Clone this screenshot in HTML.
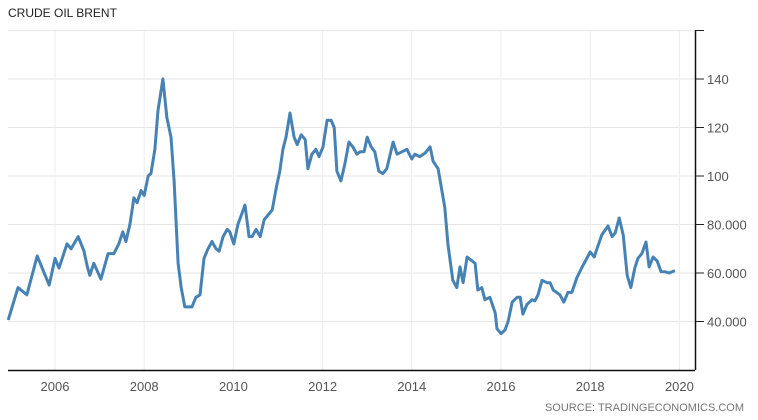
<!DOCTYPE html>
<html><head><meta charset="utf-8"><style>
body{margin:0;background:#fff;}
svg{display:block;font-family:"Liberation Sans",sans-serif;}
</style></head><body>
<svg width="758" height="420" viewBox="0 0 758 420">
<text x="8" y="17" font-size="12" fill="#222">CRUDE OIL BRENT</text>
<g id="grid"></g>
<g id="axes"></g>
<path id="line" fill="none" stroke="#4682b4" stroke-width="3" stroke-linejoin="round"/>
<text x="744" y="411" font-size="11" fill="#777" text-anchor="end">SOURCE: TRADINGECONOMICS.COM</text>
</svg>
<script>
const years=[2004.95,2005.17,2005.37,2005.60,2005.87,2006.00,2006.09,2006.27,2006.36,2006.52,2006.65,2006.72,2006.78,2006.87,2007.03,2007.19,2007.32,2007.43,2007.52,2007.59,2007.68,2007.77,2007.84,2007.93,2008.00,2008.09,2008.15,2008.24,2008.31,2008.42,2008.51,2008.60,2008.67,2008.76,2008.83,2008.91,2009.07,2009.16,2009.25,2009.34,2009.43,2009.52,2009.61,2009.68,2009.77,2009.86,2009.92,2010.01,2010.10,2010.26,2010.35,2010.42,2010.51,2010.60,2010.69,2010.78,2010.87,2010.96,2011.04,2011.11,2011.18,2011.27,2011.36,2011.43,2011.52,2011.61,2011.67,2011.76,2011.85,2011.92,2012.01,2012.10,2012.19,2012.26,2012.32,2012.41,2012.50,2012.59,2012.68,2012.77,2012.84,2012.93,2013.00,2013.09,2013.17,2013.26,2013.35,2013.44,2013.58,2013.67,2013.89,2014.00,2014.07,2014.18,2014.30,2014.41,2014.48,2014.59,2014.74,2014.81,2014.92,2015.01,2015.08,2015.15,2015.24,2015.42,2015.48,2015.57,2015.64,2015.75,2015.87,2015.91,2016.00,2016.09,2016.16,2016.25,2016.36,2016.43,2016.49,2016.58,2016.70,2016.76,2016.83,2016.92,2017.03,2017.10,2017.17,2017.32,2017.41,2017.50,2017.59,2017.70,2017.82,2017.88,2018.00,2018.09,2018.17,2018.26,2018.40,2018.49,2018.56,2018.65,2018.74,2018.83,2018.91,2019.00,2019.07,2019.16,2019.25,2019.32,2019.41,2019.50,2019.59,2019.68,2019.77,2019.90];
const prices=[40.6,54,51,67,55,66,62,72,70,75,69,63,59,64,57.5,68,68,72,77,73,80,91,89,94,92,100,101,111,127,140,124,116,98,64,54,46,46,50,51,66,70,73,70,69,75,78,77,72,80,88,75,75,78,75,82,84,86,95,102,111,116,126,116,113,117,115,103,109,111,108,112,123,123,120,102,98,105,114,112,109,110,110,116,112,110,102,101,103,114,109,111,107,109,108,109.5,112,106,103,87,72,57,54,62.5,56,66.6,64,53,54,49,50,43.5,37,35,36.5,40,48,50,50,43,47,49,48.5,51,57,56,56,53,51,48,52,52,58,62.5,64.5,68.7,66.6,71,75.7,79.4,75,76.5,82.7,75.7,59,54,62,66,68,72.8,62.5,66.6,65,60.5,60.5,60,61];
const yTicks=[140,120,100,80,60,40];
const yLabels=["140","120","100","80.000","60.000","40.000"];
const xTicks=[2006,2008,2010,2012,2014,2016,2018,2020];
const X=t=>55+(t-2006)*44.6;
const Y=v=>370-(v-20)*2.425;
const NS="http://www.w3.org/2000/svg";
const grid=document.getElementById('grid'),axes=document.getElementById('axes');
function mk(tag,attrs,parent){const e=document.createElementNS(NS,tag);for(const k in attrs)e.setAttribute(k,attrs[k]);parent.appendChild(e);return e;}
// top gridline
let tg=mk('line',{x1:8,x2:695,y1:Y(160),y2:Y(160),stroke:'#e6e6e6'},grid);


yTicks.forEach((v,i)=>{
  const g=mk('line',{x1:8,x2:695,y1:Y(v),y2:Y(v),stroke:'#e6e6e6'},grid);
  
  
  const tk=mk('line',{x1:695,x2:704,y1:Y(v),y2:Y(v),stroke:'#222'},axes);
  
  
  const t=mk('text',{x:707,y:Y(v)+5,'font-size':13,fill:'#555'},axes);
  t.textContent=yLabels[i];
  
  
});
xTicks.forEach(yr=>{
  const g=mk('line',{x1:X(yr),x2:X(yr),y1:Y(160),y2:370,stroke:'#ececec'},grid);
  
  
  const t=mk('text',{x:X(yr),y:391,'font-size':13,fill:'#555','text-anchor':'middle'},axes);
  t.textContent=yr;
  
  
});
const ax=mk('line',{x1:8,x2:695,y1:370.5,y2:370.5,stroke:'#111','stroke-width':1.5},axes);


const ay=mk('line',{x1:695.5,x2:695.5,y1:Y(160),y2:370,stroke:'#111','stroke-width':1.5},axes);


const tt=mk('line',{x1:695,x2:704,y1:Y(160),y2:Y(160),stroke:'#222'},axes);


let d='';
years.forEach((t,i)=>{d+=(i?'L':'M')+X(t).toFixed(1)+','+Y(prices[i]).toFixed(1);});
document.getElementById('line').setAttribute('d',d);
</script>
</body></html>
